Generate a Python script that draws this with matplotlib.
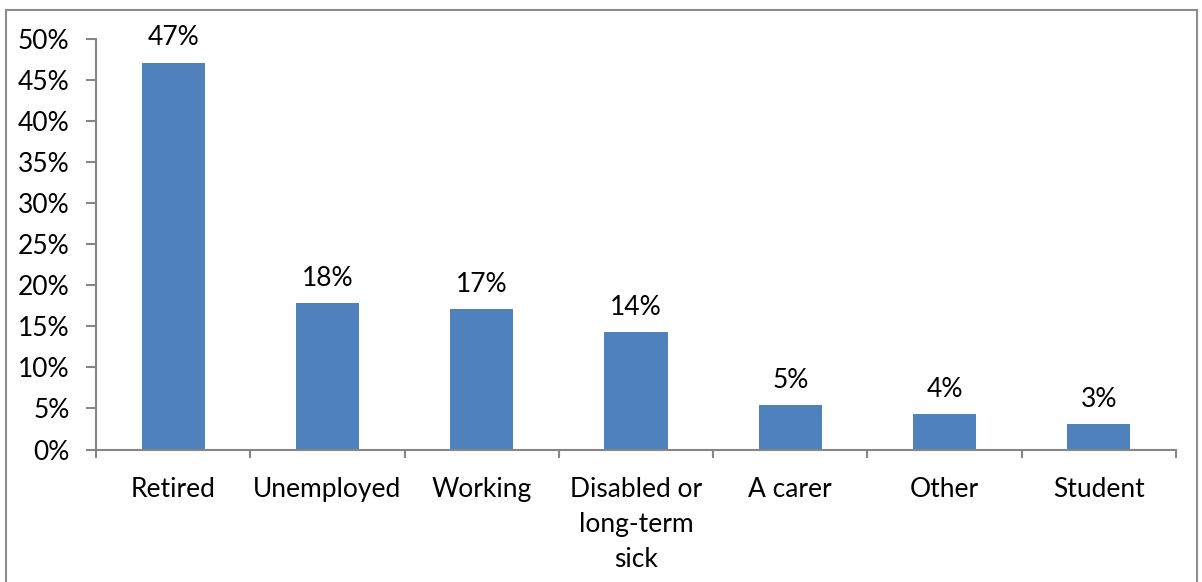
import matplotlib.pyplot as plt
from matplotlib.patches import Rectangle
from matplotlib.ticker import FuncFormatter, MultipleLocator
import numpy as np

categories = ['Retired', 'Unemployed', 'Working', 'Disabled or\nlong-term\nsick',
              'A carer', 'Other', 'Student']
shares = [47.1, 17.8, 17.1, 14.3, 5.4, 4.3, 3.1]  # percent of respondents

bar_color = '#4F81BD'
axis_color = '#868686'

plt.rcParams['font.family'] = ['Lato', 'DejaVu Sans']
plt.rcParams['font.size'] = 19

fig = plt.figure(figsize=(12.02, 5.82), dpi=100)
ax = fig.add_axes([96 / 1202, 1 - 449.5 / 582, 1080 / 1202, 410.5 / 582])

# outer chart frame
fig.patches.append(Rectangle((6 / 1202, -0.05), 1191 / 1202, 1.05 - 10 / 582,
                             transform=fig.transFigure, fill=False,
                             edgecolor='#8C8C8C', linewidth=1.5))

x = np.arange(len(categories))
bars = ax.bar(x, shares, width=0.41, color=bar_color)

for b, v in zip(bars, shares):
    ax.annotate(f'{round(v)}%', (b.get_x() + b.get_width() / 2, v),
                xytext=(0, 18), textcoords='offset points',
                ha='center', va='center')

ax.set_xlim(-0.5, len(categories) - 0.5)
ax.set_ylim(0, 50)
ax.yaxis.set_major_locator(MultipleLocator(5))
ax.yaxis.set_major_formatter(FuncFormatter(lambda v, p: f'{v:.0f}%'))

ax.set_xticks(x)
ax.set_xticklabels(categories, linespacing=1.5)
ax.set_xticks(np.arange(-0.5, len(categories)), minor=True)
ax.tick_params(axis='x', which='major', length=0, pad=20)
ax.tick_params(axis='x', which='minor', length=6, width=1.5, color=axis_color)
ax.tick_params(axis='y', length=7, width=1.5, color=axis_color, pad=12)

for side in ['top', 'right']:
    ax.spines[side].set_visible(False)
for side in ['left', 'bottom']:
    ax.spines[side].set_color(axis_color)
    ax.spines[side].set_linewidth(1.5)

fig.savefig('out.png', dpi=100)
